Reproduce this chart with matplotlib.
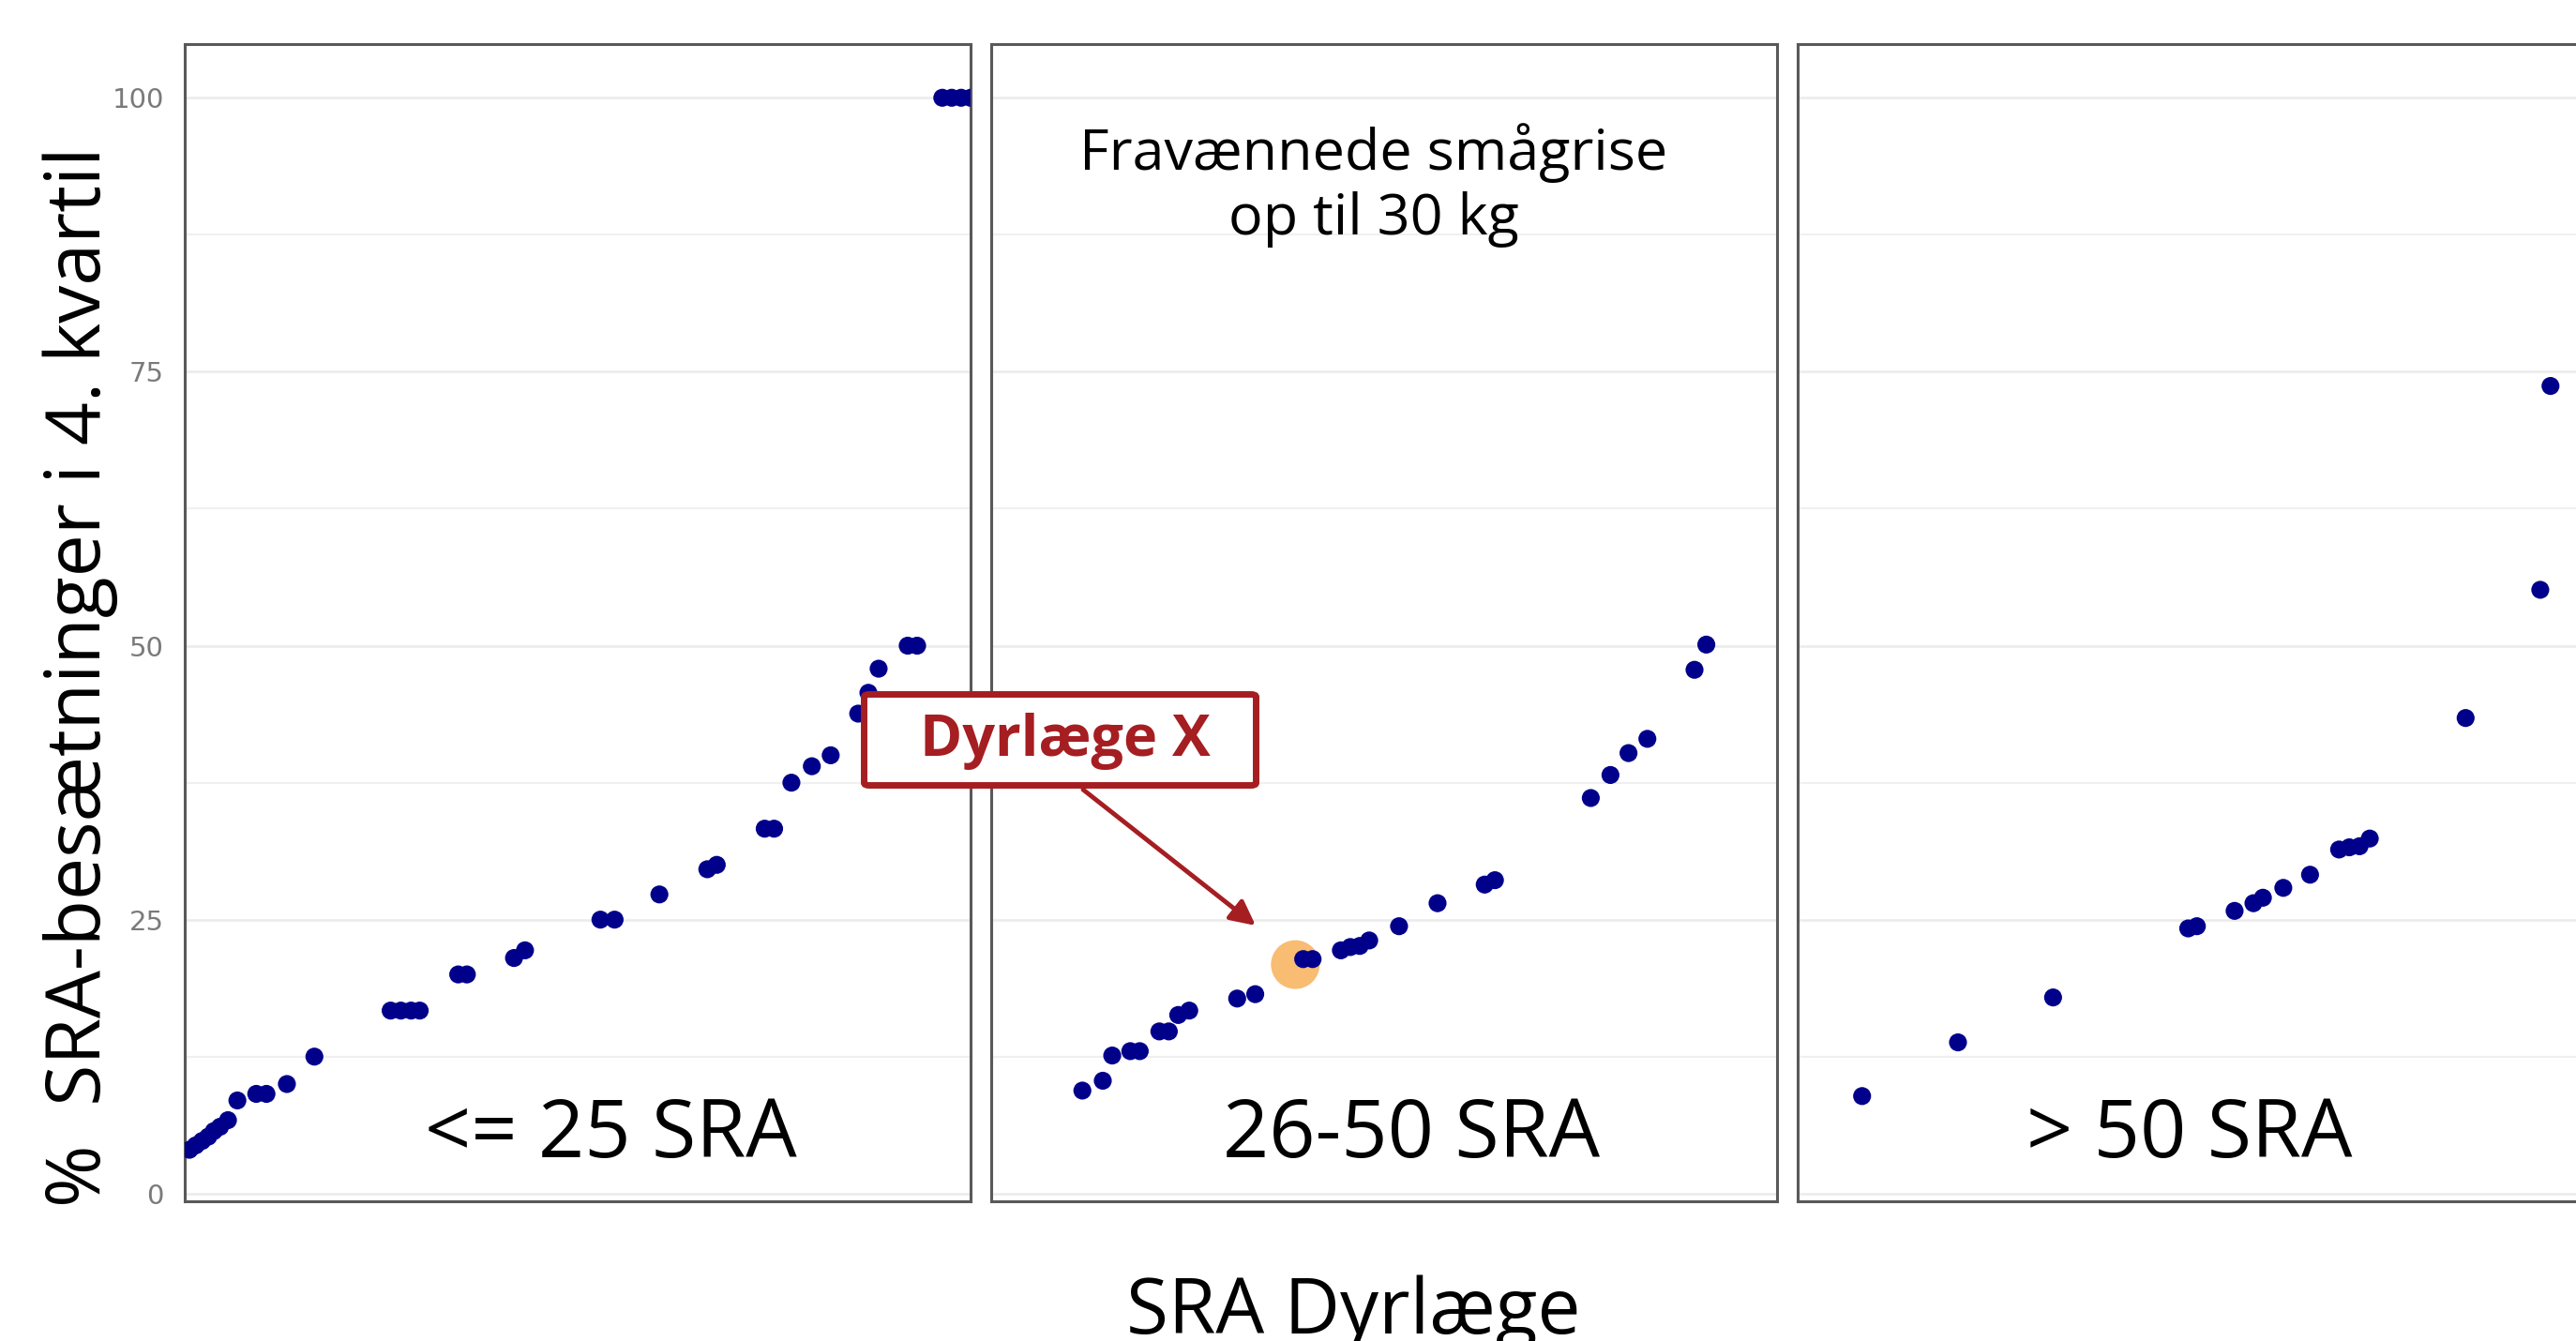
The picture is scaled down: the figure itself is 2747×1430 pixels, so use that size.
import matplotlib.pyplot as plt
from matplotlib.patches import FancyBboxPatch, FancyArrowPatch

# x = placering af dyrlægen i panelet (0-100), y = % SRA-besætninger i 4. kvartil
p1_x = [0.6, 1.4, 2.2, 3.0, 3.7, 4.5, 5.5, 6.7, 9.1, 10.4, 13.0, 16.5,
        26.2, 27.5, 28.8, 29.9, 34.8, 35.9, 41.9, 43.3, 52.9, 54.7, 60.4,
        66.5, 67.7, 73.8, 75.0, 77.2, 79.8, 82.2, 85.7, 87.0, 88.3, 92.0,
        93.2, 96.4, 97.6, 98.8, 100.0]
p1_y = [4.0, 4.4, 4.8, 5.2, 5.7, 6.1, 6.7, 8.5, 9.1, 9.1, 10.0, 12.5,
        16.7, 16.7, 16.7, 16.7, 20.0, 20.0, 21.5, 22.2, 25.0, 25.0, 27.3,
        29.6, 30.0, 33.3, 33.3, 37.5, 39.0, 40.0, 43.8, 45.7, 47.9, 50.0,
        50.0, 100.0, 100.0, 100.0, 100.0]

p2_x = [11.6, 14.2, 15.4, 17.7, 18.9, 21.4, 22.6, 23.8, 25.2, 31.3, 33.6,
        39.7, 40.9, 44.5, 45.7, 46.9, 48.1, 51.9, 56.8, 62.8, 64.1, 76.3,
        78.8, 81.1, 83.5, 89.5, 91.0]
p2_y = [9.4, 10.3, 12.6, 13.0, 13.0, 14.8, 14.8, 16.3, 16.7, 17.8, 18.2,
        21.4, 21.4, 22.2, 22.5, 22.6, 23.1, 24.4, 26.5, 28.2, 28.6, 36.1,
        38.2, 40.2, 41.5, 47.8, 50.1]

p3_x = [8.2, 20.4, 32.5, 49.7, 50.8, 55.6, 58.0, 59.2, 61.8, 65.2, 68.9,
        70.2, 71.5, 72.8, 85.0, 94.5, 95.8]
p3_y = [8.9, 13.8, 17.9, 24.2, 24.4, 25.8, 26.5, 27.0, 27.9, 29.1, 31.4,
        31.6, 31.7, 32.4, 43.4, 55.1, 73.7]

highlight_x = [38.7]
highlight_y = [20.9]

panel_labels = ["<= 25 SRA", "26-50 SRA", "> 50 SRA"]
panel_label_x = [54.2, 53.5, 49.9]
y_ticks = [0, 25, 50, 75, 100]
y_minor = [12.5, 37.5, 62.5, 87.5]

W, H = 2747, 1430
RED = "#a51e22"
FONT = "Open Sans"

fig = plt.figure(figsize=(W / 100, H / 100), dpi=100)
fig.set_facecolor("white")

panel_left = [197, 1057, 1917]
panel_w = 838
top, bottom = 47, 1281
data = [(p1_x, p1_y), (p2_x, p2_y), (p3_x, p3_y)]

axes = []
for i, left in enumerate(panel_left):
    ax = fig.add_axes([left / W, 1 - bottom / H, panel_w / W, (bottom - top) / H])
    ax.set_xlim(0, 100)
    ax.set_ylim(-0.7, 104.9)
    ax.set_xticks([])
    ax.set_yticks(y_ticks)
    ax.set_yticks(y_minor, minor=True)
    ax.grid(which="major", axis="y", color="#ebebeb", linewidth=1.8)
    ax.grid(which="minor", axis="y", color="#f0f0f0", linewidth=1.5)
    ax.set_axisbelow(True)
    ax.tick_params(axis="y", which="both", length=0, pad=16,
                   labelsize=21, labelcolor="#7a7a7a")
    if i > 0:
        ax.tick_params(axis="y", labelleft=False)
    for sp in ax.spines.values():
        sp.set_color("#595959")
        sp.set_linewidth(2.2)

    xs, ys = data[i]
    ax.scatter(xs, ys, s=190, color="#00008b", edgecolors="none", zorder=3)
    ax.text(panel_label_x[i], 3.3, panel_labels[i], ha="center", va="baseline",
            fontsize=62, family=FONT, color="black")
    axes.append(ax)

ax2 = axes[1]
ax2.scatter(highlight_x, highlight_y, s=1400, color="#f8bc72",
            edgecolors="none", zorder=2)
ax2.text(48.7, 92.0, "Fravænnede smågrise\nop til 30 kg", ha="center",
         va="center", fontsize=44, family=FONT, linespacing=1.2)

# Dyrlæge X boks og pil
box = FancyBboxPatch((921.5 / W, 1 - 837.5 / H), 418 / W, 97 / H,
                     boxstyle="round,pad=0,rounding_size=0.002",
                     transform=fig.transFigure, facecolor="white",
                     edgecolor=RED, linewidth=5, zorder=10)
fig.add_artist(box)
fig.text(1136 / W, 1 - 806 / H, "Dyrlæge X", ha="center", va="baseline",
         fontsize=44, fontweight="bold", color=RED, family=FONT, zorder=11)
arrow = FancyArrowPatch((1155 / W, 1 - 842 / H), (1339 / W, 1 - 987 / H),
                        transform=fig.transFigure, arrowstyle="-|>",
                        mutation_scale=40, linewidth=3.5, color=RED,
                        shrinkA=0, shrinkB=0, zorder=9)
fig.add_artist(arrow)

fig.text(107 / W, 1 - 722 / H, "%  SRA-besætninger i 4. kvartil",
         rotation=90, rotation_mode="anchor", ha="center", va="baseline",
         fontsize=58, family=FONT)
fig.text(1443 / W, 1 - 1422 / H, "SRA Dyrlæge", ha="center", va="baseline",
         fontsize=59, family=FONT)

fig.savefig("out.png", dpi=100)
plt.close()
